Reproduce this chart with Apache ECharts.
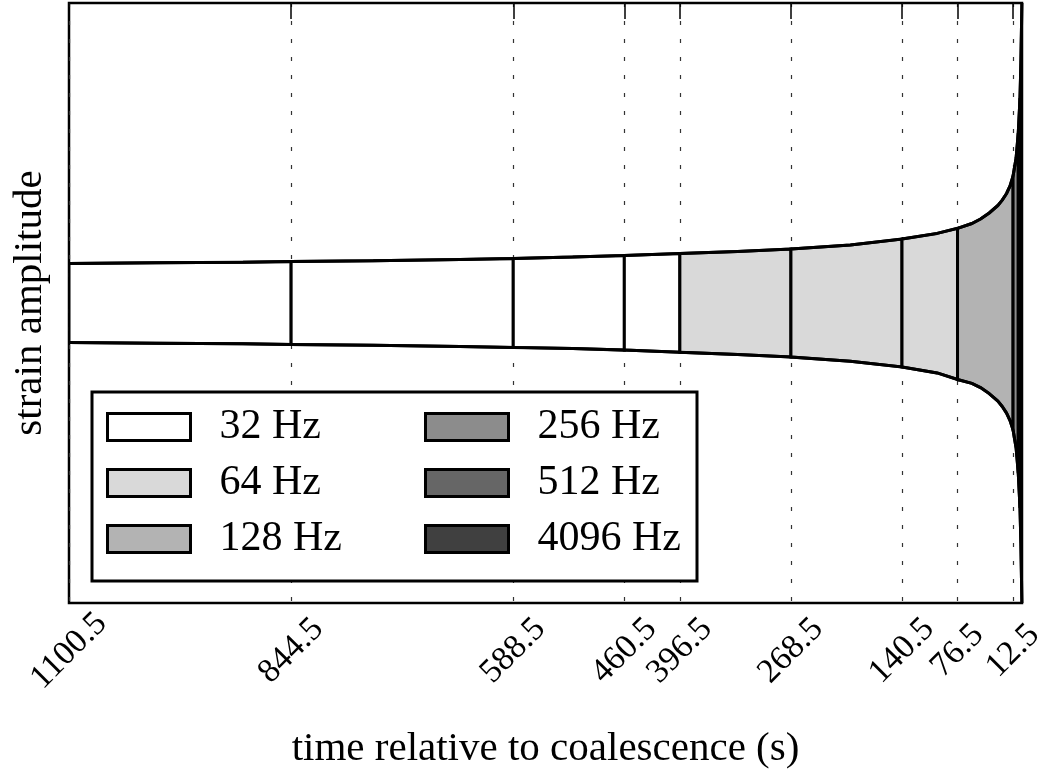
<!DOCTYPE html>
<html>
<head>
<meta charset="utf-8">
<script src="https://cdn.jsdelivr.net/npm/echarts@6/dist/echarts.min.js"></script>
<style>
  html, body { margin: 0; padding: 0; background: #fff; }
  #container { width: 1040px; height: 778px; }
</style>
</head>
<body>
<div id="container"></div>
<script>
// time relative to coalescence (s), negative = before merger
var times = [-1100.5, -1000, -900, -844.5, -750, -650, -588.5, -520, -460.5, -396.5,
             -330, -268.5, -200, -140.5, -100, -76.5, -60, -50, -40, -30, -25, -20, -16,
             -12.5, -9, -6.5, -4.5, -3.5, -2.8, -2.2];
// strain envelope (upper and lower edges)
var upper = [0.132, 0.134, 0.136, 0.138, 0.141, 0.145, 0.148, 0.153, 0.158, 0.165,
             0.172, 0.180, 0.193, 0.213, 0.232, 0.249, 0.265, 0.280, 0.300, 0.325, 0.343, 0.365, 0.390,
             0.423, 0.483, 0.567, 0.683, 0.800, 0.917, 1.0];
var lower = [-0.132, -0.134, -0.136, -0.138, -0.141, -0.145, -0.148, -0.152, -0.157, -0.164,
             -0.172, -0.180, -0.194, -0.213, -0.233, -0.255, -0.268, -0.282, -0.302, -0.327, -0.345, -0.367, -0.392,
             -0.423, -0.483, -0.567, -0.683, -0.800, -0.917, -1.0];

var tickTimes = [-1100.5, -844.5, -588.5, -460.5, -396.5, -268.5, -140.5, -76.5, -12.5];

var bandNames = ['32 Hz', '64 Hz', '128 Hz', '256 Hz', '512 Hz', '4096 Hz'];
var bandColors = ['#ffffff', '#d9d9d9', '#b3b3b3', '#8c8c8c', '#666666', '#404040'];
// slabs per band: [start, end]
var bandSlabs = [
  [[-1100.5, -844.5], [-844.5, -588.5], [-588.5, -460.5], [-460.5, -396.5]],
  [[-396.5, -268.5], [-268.5, -140.5], [-140.5, -76.5]],
  [[-76.5, -12.5]],
  [[-12.5, -6.5]],
  [[-6.5, -4.5]],
  [[-4.5, -2.2]]
];

var FONT = 'Liberation Serif';

function slabItem(params, api) {
  var t0 = api.value(0), t1 = api.value(1);
  var pts = [];
  for (var i = 0; i < times.length; i++) {
    if (times[i] >= t0 && times[i] <= t1) pts.push(api.coord([times[i], upper[i]]));
  }
  for (var j = times.length - 1; j >= 0; j--) {
    if (times[j] >= t0 && times[j] <= t1) pts.push(api.coord([times[j], lower[j]]));
  }
  return {
    type: 'polygon',
    shape: { points: pts },
    style: { fill: api.visual('color'), stroke: '#000', lineWidth: 3 }
  };
}

function zip(a, b) {
  var out = [];
  for (var i = 0; i < a.length; i++) out.push([a[i], b[i]]);
  return out;
}

var series = [];
for (var k = 0; k < bandNames.length; k++) {
  series.push({
    name: bandNames[k],
    type: 'custom',
    renderItem: slabItem,
    clip: true,
    z: 2,
    itemStyle: { color: bandColors[k], borderColor: '#000', borderWidth: 3 },
    encode: { x: [0, 1] },
    data: bandSlabs[k]
  });
}
series.push({
  type: 'line', data: zip(times, upper), symbol: 'none', silent: true, z: 3,
  lineStyle: { color: '#000', width: 3 }
});
series.push({
  type: 'line', data: zip(times, lower), symbol: 'none', silent: true, z: 3,
  lineStyle: { color: '#000', width: 3 }
});

function legendData(names) {
  return names.map(function (n) {
    var i = bandNames.indexOf(n);
    return { name: n, icon: 'rect', itemStyle: { color: bandColors[i], borderColor: '#000', borderWidth: 3 } };
  });
}

var legendCommon = {
  orient: 'vertical',
  top: 401,
  itemWidth: 83,
  itemHeight: 27,
  itemGap: 14,
  z: 6,
  selectedMode: false,
  textStyle: { fontFamily: FONT, fontSize: 42, color: '#000', padding: [0, 0, 0, 24] }
};

var option = {
  animation: false,
  backgroundColor: '#fff',
  grid: {
    left: 69, right: 18, top: 3, bottom: 175,
    outerBoundsMode: 'none', containLabel: false,
    show: true, borderColor: '#000', borderWidth: 2.5
  },
  xAxis: [{
    type: 'value',
    min: -1100.5,
    max: -2.2,
    position: 'bottom',
    axisLine: { show: false },
    axisTick: { show: true, inside: true, length: 16, customValues: tickTimes, lineStyle: { color: '#000', width: 1.5 } },
    axisLabel: {
      customValues: tickTimes,
      rotate: 45,
      align: 'center',
      verticalAlign: 'middle',
      margin: 48,
      fontFamily: FONT,
      fontSize: 34,
      color: '#000',
      formatter: function (v) { return (-v).toFixed(1); }
    },
    splitLine: { show: true, lineStyle: { color: '#333', width: 1.2, type: [4, 14] } },
    name: 'time relative to coalescence (s)',
    nameLocation: 'middle',
    nameGap: 126,
    nameTextStyle: { fontFamily: FONT, fontSize: 41, color: '#000' }
  }, {
    type: 'value',
    min: -1100.5,
    max: -2.2,
    position: 'top',
    axisLine: { show: false },
    axisTick: { show: true, inside: true, length: 16, customValues: tickTimes, lineStyle: { color: '#000', width: 1.5 } },
    axisLabel: { show: false },
    splitLine: { show: false }
  }],
  yAxis: {
    type: 'value',
    min: -1,
    max: 1,
    axisLine: { show: false },
    axisTick: { show: false },
    axisLabel: { show: false },
    splitLine: { show: false },
    name: 'strain amplitude',
    nameLocation: 'middle',
    nameRotate: 90,
    nameGap: 18,
    nameTextStyle: { fontFamily: FONT, fontSize: 41, color: '#000' }
  },
  legend: [
    Object.assign({}, legendCommon, { left: 101, data: legendData(['32 Hz', '64 Hz', '128 Hz']) }),
    Object.assign({}, legendCommon, { left: 419, data: legendData(['256 Hz', '512 Hz', '4096 Hz']) })
  ],
  graphic: {
    elements: [{
      type: 'rect',
      z: 5,
      shape: { x: 92, y: 392, width: 605, height: 189 },
      style: { fill: '#fff', stroke: '#000', lineWidth: 3 }
    }]
  },
  series: series
};

var chart = echarts.init(document.getElementById('container'));
chart.setOption(option);
</script>
</body>
</html>
